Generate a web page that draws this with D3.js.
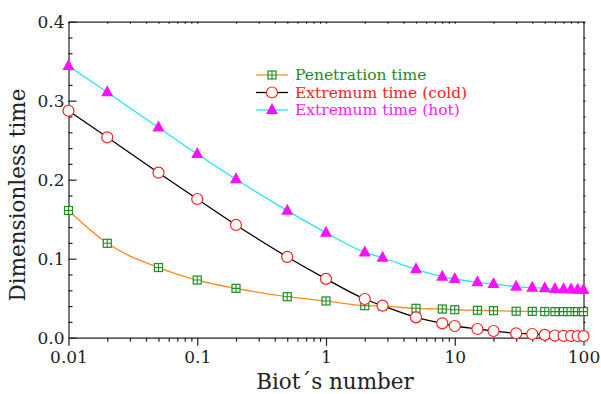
<!DOCTYPE html>
<html>
<head>
<meta charset="utf-8">
<script src="https://cdn.jsdelivr.net/npm/d3@7"></script>
<style>
  body { margin: 0; background: #fff; }
  svg { display: block; font-family: "DejaVu Serif", "Liberation Serif", serif; }
  .axis path, .axis line { stroke: #222; stroke-width: 1.2; }
  .axis text { font-size: 17px; fill: #222; font-family: "DejaVu Serif", "Liberation Serif", serif; }
</style>
</head>
<body>
<div id="graph"></div>
<script>
const WIDTH = 601
const HEIGHT = 394
const LEFT = 68.5
const RIGHT = 583.5
const TOP = 21.7
const BOTTOM = 337.7

// Biot's number values
const biot = [0.01, 0.02, 0.05, 0.1, 0.2, 0.5, 1, 2, 2.75, 5, 8, 10, 15, 20, 30, 40, 50, 60, 70, 80, 90, 100]
// dimensionless times
const penetration = [0.161, 0.1195, 0.0888, 0.073, 0.0625, 0.0519, 0.0465, 0.0405, 0.040, 0.0372, 0.0363, 0.0354,
    0.0347, 0.0342, 0.0335, 0.0333, 0.0331, 0.033, 0.033, 0.033, 0.033, 0.033]
const extremumCold = [0.2873, 0.2537, 0.2089, 0.1756, 0.1427, 0.1022, 0.0745, 0.049, 0.0405, 0.0258, 0.0182, 0.0148,
    0.011, 0.0085, 0.0056, 0.0047, 0.0036, 0.0028, 0.0024, 0.0022, 0.0021, 0.002]
const extremumHot = [0.344, 0.3106, 0.266, 0.2325, 0.2005, 0.1608, 0.133, 0.108, 0.1012, 0.0866, 0.0772, 0.0743,
    0.0701, 0.068, 0.0646, 0.0633, 0.0625, 0.0616, 0.0612, 0.061, 0.0608, 0.0604]

const xMajor = [0.01, 0.1, 1, 10, 100]
const xLabels = ['0.01', '0.1', '1', '10', '100']
const yMajor = [0, 0.1, 0.2, 0.3, 0.4]
const yLabels = ['0.0', '0.1', '0.2', '0.3', '0.4']
const legendNames = ['Penetration time', 'Extremum time (cold)', 'Extremum time (hot)']

const main = _ => {
    const x = d3.scaleLog().domain([0.01, 100]).range([LEFT, RIGHT])
    const y = d3.scaleLinear().domain([0, 0.4]).range([BOTTOM, TOP])

    const svg = d3.select('#graph').append('svg')
        .attr('width', WIDTH)
        .attr('height', HEIGHT)

    const xMinor = []
    for (let d = 0.01; d < 100; d *= 10)
        for (let k = 2; k <= 9; k++) xMinor.push(+(d * k).toPrecision(3))
    const yMinor = d3.range(0, 0.401, 0.02).filter(v => Math.abs(v * 10 - Math.round(v * 10)) > 1e-6)

    // bottom axis, ticks outward
    svg.append('g').attr('class', 'axis')
        .attr('transform', `translate(0,${BOTTOM})`)
        .call(d3.axisBottom(x).tickValues(xMinor).tickSize(4).tickFormat(''))
        .call(g => g.select('.domain').remove())
    svg.append('g').attr('class', 'axis')
        .attr('transform', `translate(0,${BOTTOM})`)
        .call(d3.axisBottom(x).tickValues(xMajor).tickSize(8).tickSizeOuter(0).tickPadding(5)
            .tickFormat((d, i) => xLabels[i]))

    // top axis, small inward ticks
    svg.append('g').attr('class', 'axis')
        .attr('transform', `translate(0,${TOP})`)
        .call(d3.axisBottom(x).tickValues(xMajor.concat(xMinor)).tickSize(2).tickSizeOuter(0).tickFormat(''))

    // left axis, ticks inward
    svg.append('g').attr('class', 'axis')
        .attr('transform', `translate(${LEFT},0)`)
        .call(d3.axisLeft(y).tickValues(yMinor).tickSize(-4).tickFormat(''))
        .call(g => g.select('.domain').remove())
    svg.append('g').attr('class', 'axis')
        .attr('transform', `translate(${LEFT},0)`)
        .call(d3.axisLeft(y).tickValues(yMajor).tickSize(-8).tickSizeOuter(0).tickPadding(4)
            .tickFormat((d, i) => yLabels[i]))

    // right axis, small outward ticks
    svg.append('g').attr('class', 'axis')
        .attr('transform', `translate(${RIGHT},0)`)
        .call(d3.axisRight(y).tickValues(yMajor.concat(yMinor)).tickSize(2).tickSizeOuter(0).tickFormat(''))

    const series = [
        { name: legendNames[0], values: penetration, line: '#ff8a1e', marker: 'square', color: '#1e8c1e', text: '#1e8c1e' },
        { name: legendNames[1], values: extremumCold, line: '#000', marker: 'circle', color: '#ff2020', text: '#ff2020' },
        { name: legendNames[2], values: extremumHot, line: '#22e5f0', marker: 'triangle', color: '#ff10ff', text: '#ff20ff' }
    ]

    const line = d3.line()
        .x(d => x(d[0]))
        .y(d => y(d[1]))
        .curve(d3.curveMonotoneX)

    const drawMarker = (g, type, color) => {
        if (type === 'square') {
            g.append('rect').attr('x', -4).attr('y', -4).attr('width', 8).attr('height', 8)
                .attr('fill', '#fff').attr('stroke', color).attr('stroke-width', 1.2)
            g.append('path').attr('d', 'M0,-4V4M-4,0H4')
                .attr('stroke', color).attr('stroke-width', 1.1)
        } else if (type === 'circle') {
            g.append('circle').attr('r', 5.5)
                .attr('fill', '#fff').attr('stroke', color).attr('stroke-width', 1.2)
        } else {
            g.append('path').attr('d', 'M0,-7L6,4L-6,4Z').attr('fill', color)
        }
    }

    const plot = svg.append('g')
    series.forEach(s => {
        const pts = biot.map((b, i) => [b, s.values[i]])
        plot.append('path')
            .datum(pts)
            .attr('d', line)
            .attr('fill', 'none')
            .attr('stroke', s.line)
            .attr('stroke-width', 1.3)
        plot.selectAll(null)
            .data(pts)
            .enter()
            .append('g')
            .attr('transform', d => `translate(${x(d[0])},${y(d[1])})`)
            .each(function () { drawMarker(d3.select(this), s.marker, s.color) })
    })

    // legend
    const legend = svg.append('g').attr('transform', 'translate(256,75)')
    series.forEach((s, i) => {
        const row = legend.append('g').attr('transform', `translate(0,${i * 17.5})`)
        row.append('line').attr('x1', 0).attr('x2', 32).attr('stroke', s.line).attr('stroke-width', 1.3)
        drawMarker(row.append('g').attr('transform', 'translate(16,0)'), s.marker, s.color)
        row.append('text')
            .attr('x', 39)
            .attr('dy', '0.35em')
            .attr('fill', s.text)
            .style('font-size', '15.5px')
            .text(s.name)
    })

    svg.append('text')
        .attr('x', (LEFT + RIGHT) / 2 + 9)
        .attr('y', 389)
        .attr('text-anchor', 'middle')
        .style('font-size', '21.5px')
        .attr('fill', '#222')
        .text('Biot\u00b4s number')

    svg.append('text')
        .attr('transform', `translate(25,${195}) rotate(-90)`)
        .attr('text-anchor', 'middle')
        .style('font-size', '21.5px')
        .attr('fill', '#222')
        .text('Dimensionless time')
}

document.addEventListener('DOMContentLoaded', main)
</script>
</body>
</html>
